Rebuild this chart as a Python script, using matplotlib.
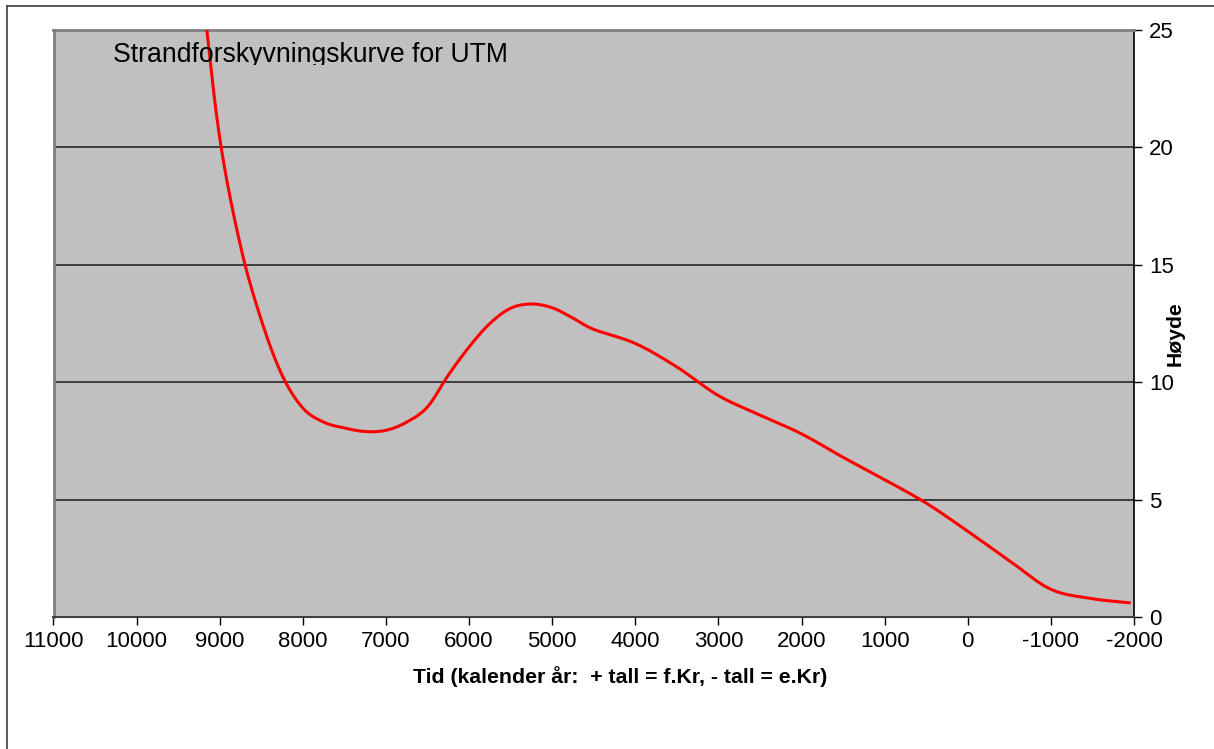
import numpy as np
import matplotlib
matplotlib.use("Agg")
import matplotlib.pyplot as plt
from matplotlib.lines import Line2D
from matplotlib.transforms import Bbox, Affine2D

plt.rcParams['font.family'] = ['Liberation Sans', 'DejaVu Sans']

# ----------------------------
# Data (year: + = f.Kr, - = e.Kr)
# ----------------------------
years = [9200, 9000, 8750, 8500, 8250, 8000, 7750, 7500, 7250, 7000,
         6750, 6500, 6250, 6000, 5750, 5500, 5250, 5000, 4750, 4500,
         4000, 3500, 3000, 2500, 2000, 1500, 1000, 500, 0, -500,
         -1000, -1500, -1960]
heights = [26.4, 20.4, 15.8, 12.65, 10.3, 8.9, 8.3, 8.05, 7.9, 7.95,
           8.3, 8.95, 10.3, 11.5, 12.5, 13.15, 13.33, 13.17, 12.73, 12.25,
           11.65, 10.65, 9.43, 8.6, 7.8, 6.8, 5.85, 4.85, 3.65, 2.4,
           1.18, 0.78, 0.6]

title_text = "Strandforskyvningskurve for UTM"
xlabel_text = "Tid (kalender år:  + tall = f.Kr, - tall = e.Kr)"
ylabel_text = "Høyde"
xticks = list(range(11000, -2001, -1000))
yticks = [0, 5, 10, 15, 20, 25]


def smooth(x, y, n=20):
    # Catmull-Rom, like a spreadsheet "smoothed line"
    x = np.asarray(x, float)
    y = np.asarray(y, float)
    px = np.concatenate([[2 * x[0] - x[1]], x, [2 * x[-1] - x[-2]]])
    py = np.concatenate([[2 * y[0] - y[1]], y, [2 * y[-1] - y[-2]]])
    t = np.linspace(0, 1, n, endpoint=False)
    ox, oy = [], []
    for i in range(1, len(px) - 2):
        for p, o in ((px, ox), (py, oy)):
            p0, p1, p2, p3 = p[i - 1], p[i], p[i + 1], p[i + 2]
            o.extend(0.5 * (2 * p1 + (-p0 + p2) * t
                            + (2 * p0 - 5 * p1 + 4 * p2 - p3) * t ** 2
                            + (-p0 + 3 * p1 - 3 * p2 + p3) * t ** 3))
    ox.append(x[-1])
    oy.append(y[-1])
    return np.array(ox), np.array(oy)


W, H = 1214, 749
fig = plt.figure(figsize=(W / 100, H / 100), dpi=100)
L, R, T, B = 53.5, 1134, 30, 617
ax = fig.add_axes([L / W, 1 - B / H, (R - L) / W, (B - T) / H])
ax.set_facecolor('#c0c0c0')

sx, sy = smooth(years, heights)
ax.plot(sx, sy, color='#ff0000', lw=2.2, solid_capstyle='butt', zorder=3)

ax.set_xlim(11000, -2000)
ax.set_ylim(0, 25)
ax.set_xticks(xticks)
ax.set_xticklabels([str(v) for v in xticks])
ax.set_yticks(yticks)

for v in yticks[1:-1]:
    ax.axhline(v, color='#333333', lw=1.3, zorder=1)

ax.yaxis.tick_right()
ax.tick_params(axis='both', direction='out', labelsize=16, color='black')
ax.tick_params(axis='x', length=6, width=1, pad=4)
ax.tick_params(axis='y', length=6, width=1, pad=5)

for side in ['left', 'top']:
    ax.spines[side].set_color('#808080')
    ax.spines[side].set_linewidth(2)
ax.spines['bottom'].set_color('#404040')
ax.spines['bottom'].set_linewidth(1.5)
ax.spines['right'].set_color('black')
ax.spines['right'].set_linewidth(1.2)

# title inside the plot area, bottom slightly cut like in the original
txt = fig.text(0, 0, title_text, fontsize=19.2, va='baseline', ha='left', zorder=4)
txt.set_transform(Affine2D().translate(113, H - 62))
txt.set_clip_box(Bbox([[L, H - 65], [R, H - 30]]))
txt.set_clip_on(True)

fig.text(620 / W, 1 - 677 / H, xlabel_text, fontsize=15.3, fontweight='bold',
         ha='center', va='center')
fig.text(1175 / W, 1 - 334 / H, ylabel_text, fontsize=15.2, fontweight='bold',
         rotation=90, ha='center', va='center')

# outer chart frame (left and top edges visible)
fig.add_artist(Line2D([7 / W, 7 / W], [0, 1 - 6 / H], color='#404040', lw=1.2))
fig.add_artist(Line2D([7 / W, 1], [1 - 6 / H, 1 - 6 / H], color='#404040', lw=1.2))

fig.savefig('out.png', dpi=100)
